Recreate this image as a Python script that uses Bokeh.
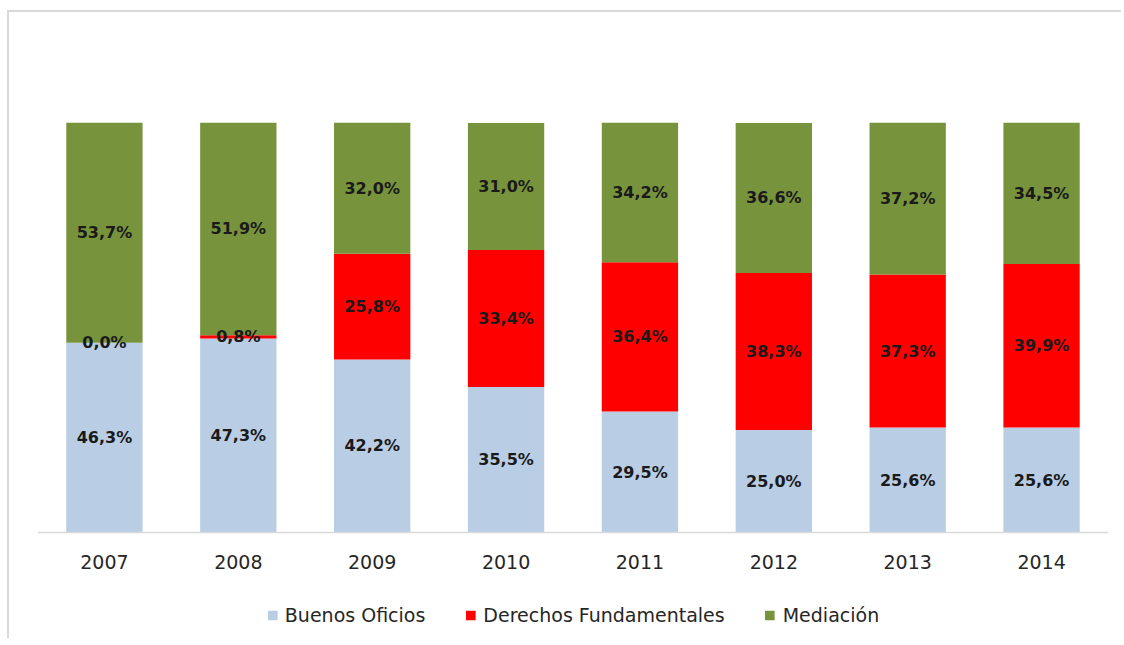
from bokeh.plotting import figure
from bokeh.models import ColumnDataSource, Legend, LegendItem, Range1d, Span
from bokeh.embed import file_html
from bokeh.resources import INLINE
from bokeh.core.properties import value

years = ["2007", "2008", "2009", "2010", "2011", "2012", "2013", "2014"]
buenos_oficios = [46.3, 47.3, 42.2, 35.5, 29.5, 25.0, 25.6, 25.6]
derechos_fundamentales = [0.0, 0.8, 25.8, 33.4, 36.4, 38.3, 37.3, 39.9]
mediacion = [53.7, 51.9, 32.0, 31.0, 34.2, 36.6, 37.2, 34.5]
series_names = ["Buenos Oficios", "Derechos Fundamentales", "Mediación"]
series_keys = ["bo", "df", "me"]
colors = ["#b9cde5", "#ff0000", "#77933c"]

data = {"years": years, "bo": buenos_oficios, "df": derechos_fundamentales, "me": mediacion}
src = ColumnDataSource(data)

FONT = "DejaVu Sans"

W, H = 1114, 628
MB_TOP, MB_BOTTOM, MB_LEFT, MB_RIGHT = 110, 3, 28, 15
PX_PER_UNIT = 4.1                      # 100 % -> 410 px
frame_h = H - MB_TOP - MB_BOTTOM
y_start = 100 - frame_h / PX_PER_UNIT

p = figure(x_range=years, y_range=Range1d(y_start, 100), width=W, height=H,
           output_backend="svg", toolbar_location=None,
           x_axis_location=None, y_axis_location=None,
           min_border_left=MB_LEFT, min_border_right=MB_RIGHT,
           min_border_top=MB_TOP, min_border_bottom=MB_BOTTOM)
p.styles = {"border-top": "2px solid #d9d9d9", "border-left": "2px solid #d9d9d9",
            "margin-top": "10px", "margin-left": "7px"}
p.outline_line_color = None
p.xgrid.visible = False
p.ygrid.visible = False
p.background_fill_color = "white"
p.border_fill_color = "white"

renderers = p.vbar_stack(series_keys, x="years", width=0.57, color=colors, source=src, line_color=None)

# baseline (category axis line)
p.add_layout(Span(location=0, dimension="width", line_color="#d9d9d9", line_width=1.5))

# category labels under the baseline
tick_src = ColumnDataSource(dict(x=years, y=[-29 / PX_PER_UNIT] * len(years), t=years))
p.text(x="x", y="y", text="t", source=tick_src, text_align="center", text_baseline="middle",
       text_font=value(FONT), text_font_size="19px", text_color="#262626")

# value labels at the centre of each segment
lx, ly, lt = [], [], []
for i, yr in enumerate(years):
    base = 0.0
    for key in series_keys:
        v = data[key][i]
        lx.append(yr)
        ly.append(base + v / 2.0)
        lt.append(("%.1f%%" % v).replace(".", ","))
        base += v
lab_src = ColumnDataSource(dict(x=lx, y=ly, t=lt))
p.text(x="x", y="y", text="t", source=lab_src, text_align="center", text_baseline="middle",
       text_font=value(FONT), text_font_style="bold", text_font_size="16px", text_color="#1a1a1a")

legend = Legend(items=[LegendItem(label=n, renderers=[r]) for n, r in zip(series_names, renderers)],
                orientation="horizontal", location="bottom_center")
legend.glyph_width = 12
legend.glyph_height = 12
legend.label_standoff = 7
legend.spacing = 39
legend.label_text_font = FONT
legend.label_text_font_size = "19px"
legend.label_text_color = "#262626"
legend.border_line_color = None
legend.background_fill_alpha = 0
legend.margin = 11
legend.padding = 10
p.add_layout(legend, "center")

open("out.html", "w").write(file_html(p, INLINE))
